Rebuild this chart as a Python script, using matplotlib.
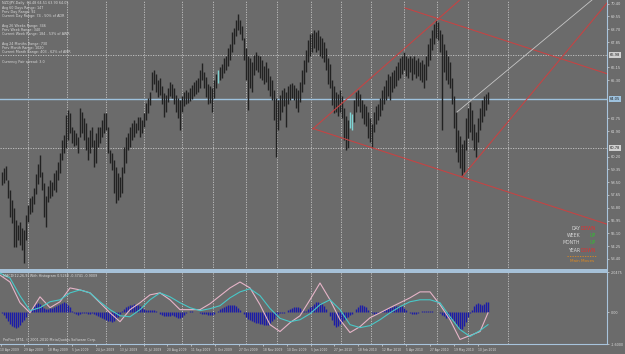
import matplotlib
matplotlib.use("Agg")
import matplotlib.pyplot as plt
import numpy as np

# NZDJPY daily bars, one sample every 2 px of chart width
HIGH = [59.18, 59.45, 59.58, 58.65, 57.98, 57.32, 56.78, 55.98, 55.65, 55.85,
        55.45, 55.32, 56.32, 56.98, 57.45, 57.58, 58.12, 59.05, 59.72, 60.32,
        59.18, 58.45, 57.58, 58.25, 58.65, 58.52, 59.12, 59.32, 59.85, 60.45,
        61.32, 61.65, 62.98,
        63.32, 63.12, 62.18, 61.98, 61.78, 61.52, 63.45, 63.18, 62.78, 62.45,
        61.52, 61.98, 62.18, 61.32, 61.78, 62.18, 62.18, 62.65, 63.12, 63.12,
        62.18, 60.65, 60.45, 59.98, 59.52, 59.12, 58.85, 59.52, 60.85, 61.52,
        61.78, 62.18, 62.45, 62.65, 62.45, 62.85, 62.85, 62.65, 63.12, 63.78,
        64.12,
        64.52, 65.85, 65.98, 65.72, 65.32, 65.45, 64.92, 64.45, 64.32, 64.78,
        65.18, 65.05, 64.78, 64.32, 64.12, 63.98, 64.25, 64.52, 64.65, 64.52,
        64.78, 64.98, 65.18, 65.32, 65.45, 65.98, 66.45, 65.85, 65.52, 65.05,
        64.92, 64.78, 65.32, 65.72, 65.98, 66.18, 66.38, 66.78, 66.92, 67.45,
        67.72, 68.52, 68.78, 69.32, 69.72, 69.32, 68.92, 68.12, 67.45, 66.92,
        66.78, 66.52, 66.98, 67.18, 66.98, 66.92, 66.65, 66.25, 66.52, 66.12,
        65.58, 65.32, 64.65, 64.12, 63.98, 64.32, 64.65, 64.78, 64.52, 64.92,
        65.05, 65.12, 64.98, 64.78, 64.65, 65.18, 65.98, 66.65, 67.32, 67.98,
        68.38, 68.45, 68.65, 68.52, 68.65, 68.25,
        68.12, 67.85, 67.45, 66.78, 66.38, 65.32, 64.92, 64.52, 64.38, 64.65,
        64.25, 63.45, 62.92, 62.65, 63.18, 63.05, 63.98, 64.52, 64.65, 64.38,
        63.98, 63.72, 63.58, 63.18, 62.78, 62.38, 63.18, 63.58, 63.72, 64.12,
        64.65, 64.92, 65.32, 65.72, 65.58, 65.85, 65.98, 66.25, 66.52, 66.78,
        66.92, 67.18, 66.92, 66.78, 66.92, 66.78, 66.92, 66.65, 66.78, 66.52,
        66.65, 66.38, 66.92, 67.72, 68.12, 68.65, 69.05, 69.32, 69.18, 68.65,
        68.38, 67.72, 67.32, 66.92, 66.52, 65.45, 64.25, 63.18, 61.98, 61.58,
        61.05, 61.32, 62.78, 63.45, 63.85, 63.32, 62.38, 61.85, 62.78, 63.45,
        63.98, 64.25, 64.38, 64.52]
LOW = [58.32, 58.45, 58.65, 57.45, 56.18, 55.78, 54.18, 54.18, 54.65, 54.32,
       53.98, 53.12, 54.65, 55.85, 56.38, 56.52, 57.05, 57.72, 58.38, 58.85,
       57.98, 56.18, 55.52, 57.18, 57.45, 57.58, 57.98, 57.85, 58.65, 59.12,
       59.98, 60.45, 60.78,
       61.32, 61.78, 61.12, 60.92, 60.98, 60.45, 61.52, 61.78, 61.32, 60.65,
       59.98, 60.45, 60.85, 59.52, 59.78, 60.85, 61.12, 61.52, 61.78, 61.98,
       60.45, 59.78, 59.32, 57.78, 57.12, 57.32, 57.52, 57.78, 59.12, 59.78,
       60.65, 60.85, 61.32, 61.52, 61.78, 61.98, 61.52, 61.78, 62.18, 62.65,
       63.12,
       63.65, 64.65, 65.05, 64.52, 64.18, 64.32, 63.72, 62.85, 63.18, 63.85,
       64.25, 64.12, 63.72, 63.18, 62.78, 61.98, 63.18, 63.58, 63.72, 63.78,
       63.92, 64.05, 64.25, 64.38, 64.52, 64.78, 65.32, 64.78, 64.18, 63.72,
       63.78, 63.18, 64.12, 64.78, 65.12, 65.32, 65.45, 65.78, 65.98, 66.25,
       66.65, 67.18, 67.72, 68.25, 68.65, 68.38, 67.98, 66.65, 65.32, 63.32,
       64.78, 64.52, 65.65, 65.98, 65.85, 65.45, 65.32, 65.05, 65.18, 64.65,
       64.25, 63.98, 62.65, 60.18, 61.98, 62.65, 63.18, 63.58, 62.18, 63.72,
       63.98, 64.12, 63.98, 63.45, 63.18, 63.85, 64.52, 65.05, 65.85, 66.52,
       66.92, 67.18, 67.45, 67.18, 67.32, 66.92,
       66.78, 66.52, 65.98, 65.05, 64.78, 63.65, 63.12, 63.18, 62.92, 63.18,
       62.78, 61.32, 60.65, 60.78, 62.12, 61.98, 62.52, 63.18, 63.58, 63.18,
       62.78, 62.38, 62.25, 61.45, 61.18, 60.78, 61.85, 62.38, 62.65, 62.92,
       63.32, 63.72, 63.98, 64.25, 63.98, 64.52, 64.78, 64.92, 65.32, 65.45,
       65.72, 65.98, 65.58, 65.45, 65.85, 65.32, 65.72, 65.45, 65.58, 65.32,
       65.18, 64.78, 65.32, 66.25, 66.65, 67.32, 67.72, 68.12, 67.98, 67.18,
       61.98, 65.85, 65.32, 65.05, 64.78, 63.72, 62.12, 60.52, 59.85, 59.45,
       58.85, 59.18, 60.65, 61.45, 61.85, 61.32, 60.65, 60.18, 61.18, 61.98,
       62.52, 62.92, 63.32, 63.72]
CYAN_BARS = [108, 174, 175]

# MACD histogram (one per bar) and the two lines (one point per 10 px)
HIST = [-0.05, -0.15, -0.3, -0.45, -0.58, -0.68, -0.75, -0.77, -0.72, -0.62,
        -0.5, -0.38, -0.22, -0.05, 0.08, 0.18, 0.3, 0.42, 0.48, 0.45,
        0.32, 0.2, 0.15, 0.17, 0.2, 0.22, 0.27, 0.32, 0.38, 0.44,
        0.5, 0.54, 0.5, 0.4, 0.25, 0.08, -0.03, -0.1, -0.14, -0.08,
        -0.02, -0.03, -0.05, -0.06, -0.08, -0.05, -0.08, -0.12, -0.18, -0.24,
        -0.3, -0.34, -0.38, -0.42, -0.46, -0.47, -0.42, -0.35, -0.22, -0.08,
        0.05, 0.15, 0.25, 0.32, 0.38, 0.4, 0.42, 0.4, 0.36, 0.3,
        0.22, 0.15, 0.12, 0.1, 0.1, 0.12, 0.1, 0.06, 0.0, -0.06,
        -0.12, -0.18, -0.2, -0.18, -0.16, -0.14, -0.18, -0.24, -0.27, -0.26,
        -0.22, -0.12, -0.05, 0.02, 0.05, 0.06, 0.04, 0.02, 0.0, -0.04,
        -0.06, -0.08, -0.1, -0.12, -0.12, -0.12, -0.08, 0.0, 0.08, 0.15,
        0.22, 0.28, 0.33, 0.36, 0.38, 0.39, 0.37, 0.32, 0.22, 0.12,
        0.02, -0.1, -0.22, -0.32, -0.4, -0.45, -0.5, -0.53, -0.56, -0.58,
        -0.6, -0.62, -0.63, -0.62, -0.55, -0.45, -0.32, -0.2, -0.1, -0.05,
        -0.04, -0.02, 0.02, 0.1, 0.18, 0.24, 0.28, 0.29, 0.26, 0.2,
        0.12, 0.06, 0.08, 0.15, 0.25, 0.35, 0.45, 0.52, 0.54, 0.5,
        0.42, 0.3, 0.15, 0.0, -0.2, -0.4, -0.62, -0.72, -0.7, -0.6,
        -0.48, -0.38, -0.3, -0.22, -0.14, -0.08, 0.0, 0.15, 0.28, 0.36,
        0.39, 0.35, 0.25, 0.12, 0.02, -0.04, -0.06, -0.08, -0.05, 0.0,
        0.06, 0.12, 0.18, 0.22, 0.25, 0.28, 0.3, 0.32, 0.33, 0.34,
        0.3, 0.22, 0.12, 0.03, -0.04, -0.06, -0.08, -0.06, -0.02, 0.04,
        0.06, 0.07, 0.08, 0.09, 0.08, 0.06, 0.04, 0.02, 0.0, -0.05,
        -0.12, -0.2, -0.26, -0.3, -0.32, -0.35, -0.45, -0.6, -0.75, -0.87,
        -0.85, -0.7, -0.5, -0.25, -0.05, 0.1, 0.3, 0.42, 0.48, 0.42,
        0.4, 0.45, 0.52, 0.55]
MACD_PINK = [1.89, 1.54, 0.49, -0.02, 0.79, 0.24, 0.54, 1.24, 1.14, 0.99,
             0.49, -0.02, -0.47, 0.14, 0.49, 0.89, 0.99, 0.64, 0.14, 0.14,
             0.14, 0.44, 0.84, 1.24, 1.54, 1.24, 0.39, -0.62, -0.97, -0.52,
             -0.17, 0.64, 1.49, 0.64, -0.37, -1.02, -0.72, -0.27, -0.02, 0.24,
             0.49, 0.74, 1.04, 1.04, 0.39, -0.37, -1.37, -1.17, -0.97, -0.02]
MACD_CYAN = [1.99, 1.74, 0.84, 0.09, 0.24, 0.54, 0.64, 0.99, 1.14, 0.99,
             0.54, 0.14, -0.17, -0.22, 0.14, 0.64, 0.99, 0.79, 0.49, 0.24,
             0.09, 0.19, 0.34, 0.74, 1.04, 1.2, 0.85, 0.2, -0.3, -0.47,
             -0.37, -0.07, 0.39, 0.64, 0.14, -0.62, -0.77, -0.67, -0.37, -0.02,
             0.29, 0.54, 0.64, 0.64, 0.49, -0.22, -0.87, -1.22, -0.92, -0.62]

DATE_LABELS = ["10 Apr 2009", "29 Apr 2009", "18 May 2009", "5 Jun 2009", "24 Jun 2009",
               "13 Jul 2009", "31 Jul 2009", "20 Aug 2009", "11 Sep 2009", "5 Oct 2009",
               "27 Oct 2009", "18 Nov 2009", "10 Dec 2009", "5 Jan 2010", "27 Jan 2010",
               "18 Feb 2010", "12 Mar 2010", "5 Apr 2010", "27 Apr 2010", "19 May 2010",
               "10 Jun 2010"]
MONTH_GRID = [28, 67, 106, 144, 182, 213, 246, 277, 311, 341, 371, 404, 437, 468, 508]

# drawn objects: (x1, price1, x2, price2)
CHANNEL_LOW = (373, 60.78, 462, 58.85)
CHANNEL_HIGH = (405, 70.12, 610, 65.67)
RISE_LEFT = (313, 62.07, 437, 69.32)
RISE_RIGHT = (462, 58.85, 508, 62.53)
GRAY_LINE = (457, 63.18, 500, 65.56)
BID = 64.05
HLINES = [66.98, 60.78]

INFO = ["NZDJPY,Daily  64.48 64.51 63.90 64.05", "Avg 60 Days Range: 147",
        "Prev Day Range: 92", "Current Day Range: 74 - 50% of ADR", "",
        "Avg 26 Weeks Range: 346", "Prev Week Range: 340",
        "Current Week Range: 184 - 53% of AWR", "",
        "Avg 24 Months Range: 730", "Prev Month Range: 1020",
        "Current Month Range: 403 - 62% of AMR", "", "Currency Pair spread: 3.0"]
MOVES = [("DAY", "DOWN"), ("WEEK", "UP"), ("MONTH", "UP"), ("YEAR", "DOWN")]

BG = "#6b6b6b"
TXT = "#d8d8d8"
AXC = "#a8c4dc"
RED = "#c44444"
W, H = 625, 354


def box(x0, y0, x1, y1):
    return [x0 / W, 1 - y1 / H, (x1 - x0) / W, (y1 - y0) / H]


def ft(x, y, s, **kw):
    fig.text(x / W, 1 - y / H, s, **kw)


fig = plt.figure(figsize=(6.25, 3.54), dpi=100, facecolor=BG)
ax = fig.add_axes(box(0, 0, 607, 270))
ax2 = fig.add_axes(box(0, 272, 607, 344))
for a in (ax, ax2):
    a.set_facecolor(BG)
    for s in a.spines.values():
        s.set_visible(False)
    a.spines["right"].set_visible(True)
    a.spines["right"].set_color(AXC)
    a.spines["right"].set_linewidth(0.8)
    a.set_xlim(0, 607)
    for gx in MONTH_GRID:
        a.axvline(gx, color="#c4c4c4", lw=0.6, ls=(0, (1.5, 1.5)), zorder=0)
ax.spines["bottom"].set_visible(True)
ax.spines["bottom"].set_color(AXC)
ax.spines["bottom"].set_linewidth(1.4)
ax2.spines["top"].set_visible(True)
ax2.spines["top"].set_color(AXC)
ax2.spines["top"].set_linewidth(1.4)
ax2.spines["bottom"].set_visible(True)
ax2.spines["bottom"].set_color(AXC)
ax2.spines["bottom"].set_linewidth(0.8)

# price bars
top = 70.65
bottom = top - 270 / 15
ax.set_ylim(bottom, top)
xb = 2 + 2 * np.arange(len(HIGH))
colors = ["#7fd4d4" if i in CYAN_BARS else "#222222" for i in range(len(HIGH))]
ax.vlines(xb, LOW, HIGH, colors=colors, lw=1.0, zorder=3)

for lvl in HLINES:
    ax.axhline(lvl, color="#c8c8c8", lw=0.6, ls=(0, (1.5, 1.5)), zorder=1)
ax.axhline(BID, color="#9ec2de", lw=1.0, zorder=2)

for (x1, p1, x2, p2), c, start, lw in [(CHANNEL_LOW, RED, 313, 0.8), (CHANNEL_HIGH, RED, 405, 0.8),
                                       (RISE_LEFT, RED, 313, 0.8), (RISE_RIGHT, RED, 462, 0.8),
                                       (GRAY_LINE, "#c6c6c6", 457, 0.6)]:
    k = (p2 - p1) / (x2 - x1)
    xs = np.array([start, 640])
    ax.plot(xs, p1 + (xs - x1) * k, color=c, lw=lw, zorder=4)

# price scale: skip plain labels that would sit under a boxed label
boxed = [BID] + HLINES
ticks = [t for t in 70.40 - 0.85 * np.arange(21) if min(abs(t - b) for b in boxed) > 0.45]
ax.yaxis.tick_right()
ax.set_yticks(ticks)
ax.set_yticklabels([f"{t:.2f}" for t in ticks])
ax.tick_params(axis="y", labelsize=2.6, colors=TXT, length=1.5, width=0.5, pad=1)
ax.tick_params(axis="x", length=0, labelbottom=False)

for lvl, fc in [(BID, "#9ec2de")] + [(v, "#d0d0d0") for v in HLINES]:
    ax.text(1.004, (lvl - bottom) / (top - bottom), f"{lvl:.2f}", transform=ax.transAxes,
            fontsize=2.6, color="#202020", va="center", ha="left",
            bbox=dict(boxstyle="square,pad=0.25", fc=fc, ec="none"), clip_on=False)

# info text
for i, line in enumerate(INFO):
    ft(2, 3 + 4.5 * i, line, fontsize=2.4, color=TXT, va="center")

for i, (lab, val) in enumerate(MOVES):
    y = 228 + 7.4 * i
    ft(580, y, lab, fontsize=3.3, color=TXT, ha="right", va="center")
    ft(596, y, val, fontsize=3.3, color="#e03030" if val == "DOWN" else "#30c030",
       ha="right", va="center")
fig.add_artist(plt.Line2D([567 / W, 597 / W], [1 - 256 / H, 1 - 256 / H], color="#e08a20",
                          lw=0.6, ls=(0, (1.5, 1.5))))
ft(582, 261, "Main Moves", fontsize=3.0, color="#e08a20", ha="center", va="center")

# MACD panel
ax2.set_ylim(-1.60, 2.0475)
ax2.vlines(xb, 0, HIST, colors="#1c1ca8", lw=1.0, zorder=2)
xl = np.r_[np.arange(0, 490, 10), 488]
ax2.plot(xl, MACD_PINK, color="#e6b4c8", lw=0.8, zorder=3)
ax2.plot(xl, MACD_CYAN, color="#48c8c8", lw=0.8, zorder=3)
ax2.yaxis.tick_right()
ax2.set_yticks([2.0475, 0, -1.60])
ax2.set_yticklabels(["2.0475", "0.00", "-1.6000"])
ax2.tick_params(axis="y", labelsize=2.4, colors=TXT, length=1.5, width=0.5, pad=1)
lab_x = 0.5 + 23.85 * np.arange(len(DATE_LABELS))
ax2.set_xticks(lab_x)
ax2.set_xticklabels(DATE_LABELS, ha="left")
ax2.tick_params(axis="x", labelsize=2.2, colors=TXT, length=1.5, width=0.5, pad=1.5)

ft(3, 276, "MACD(12,26,9) With Histogram 0.5268 -0.3741 -0.9009", fontsize=2.4, color=TXT,
   va="center")
ft(3, 340, "ProFinx MT4, \u00a9 2001-2010 MetaQuotes Software Corp.", fontsize=2.4, color=TXT,
   va="center")

fig.savefig("out.png", dpi=100, facecolor=BG)
